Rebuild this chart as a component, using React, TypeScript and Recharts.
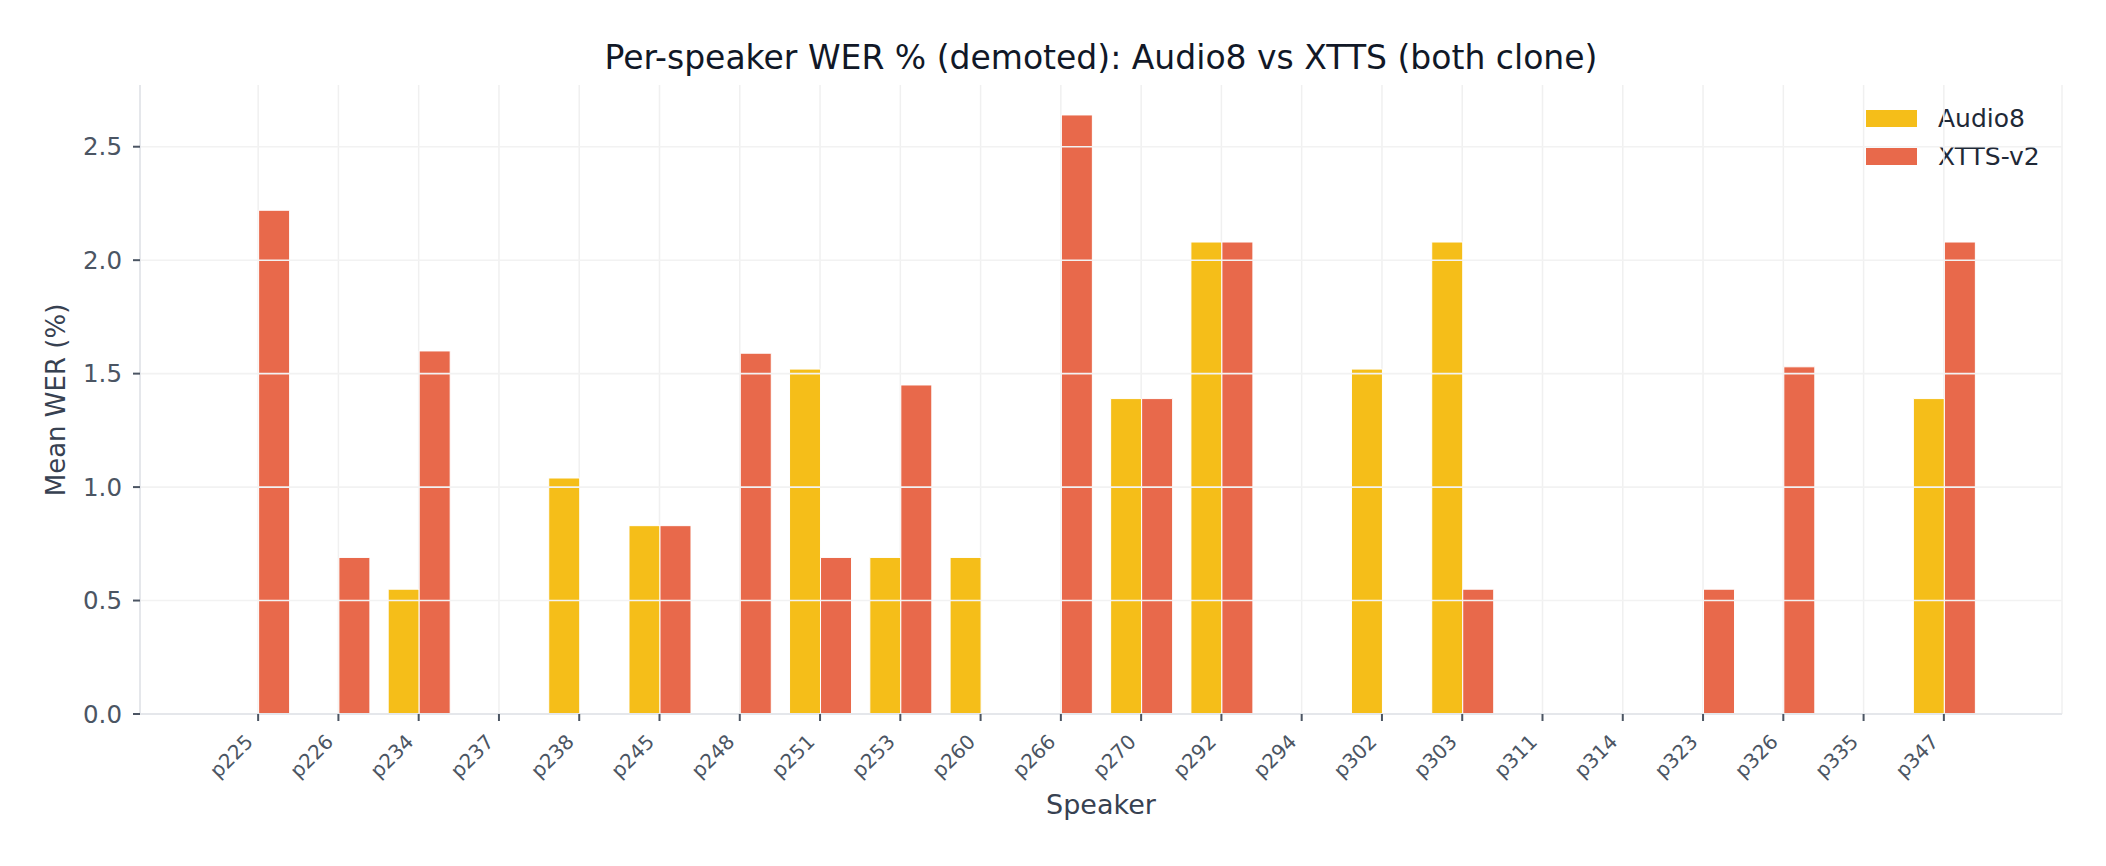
import React from "react";
import { BarChart, Bar, XAxis, YAxis, CartesianGrid, ReferenceLine } from "recharts";

// per-speaker mean WER (%), demoted set
const speakers = [
  "p225", "p226", "p234", "p237", "p238", "p245", "p248", "p251", "p253", "p260", "p266",
  "p270", "p292", "p294", "p302", "p303", "p311", "p314", "p323", "p326", "p335", "p347",
];
const audio8 = [0, 0, 0.55, 0, 1.04, 0.83, 0, 1.52, 0.69, 0.69, 0, 1.39, 2.08, 0, 1.52, 2.08, 0, 0, 0, 0, 0, 1.39];
const xtts = [2.22, 0.69, 1.6, 0, 0, 0.83, 1.59, 0.69, 1.45, 0, 2.64, 1.39, 2.08, 0, 0, 0.55, 0, 0, 0.55, 1.53, 0, 2.08];
const yTicks = [0, 0.5, 1.0, 1.5, 2.0, 2.5];

const data = speakers.map((s, i) => ({ speaker: s, audio8: audio8[i], xtts: xtts[i] }));

const FONT = "'DejaVu Sans', sans-serif";
const AUDIO8_COLOR = "#f5be19";
const XTTS_COLOR = "#e8694b";

const series = [
  { key: "audio8", name: "Audio8", color: AUDIO8_COLOR },
  { key: "xtts", name: "XTTS-v2", color: XTTS_COLOR },
];

const XTick = (props: any) => {
  const { x, y, payload } = props;
  const ax = x - 4;
  const ay = y + 22;
  return (
    <text
      x={ax}
      y={ay}
      transform={`rotate(-45, ${ax}, ${ay})`}
      textAnchor="end"
      fontSize={20}
      fontFamily={FONT}
      fill="#4b5563"
    >
      {payload.value}
    </text>
  );
};

export default function App() {
  return (
    <div style={{ position: "absolute", left: 0, top: 0, width: 2106, height: 866, background: "#fff" }}>
      <div
        style={{
          position: "absolute", left: 140, top: 41, width: 1922, textAlign: "center",
          fontFamily: FONT, fontSize: 33, lineHeight: "33px", color: "#111827", whiteSpace: "nowrap",
        }}
      >
        Per-speaker WER % (demoted): Audio8 vs XTTS (both clone)
      </div>
      <div
        style={{
          position: "absolute", left: 56, top: 400, transform: "translate(-50%, -50%) rotate(-90deg)",
          fontFamily: FONT, fontSize: 26, lineHeight: "26px", color: "#374151", whiteSpace: "nowrap",
        }}
      >
        Mean WER (%)
      </div>
      <div
        style={{
          position: "absolute", left: 140, top: 791, width: 1922, textAlign: "center",
          fontFamily: FONT, fontSize: 27, lineHeight: "27px", color: "#374151",
        }}
      >
        Speaker
      </div>
      <div style={{ position: "absolute", left: 1866, top: 99 }}>
        {series.map((s) => (
          <div key={s.key} style={{ display: "flex", alignItems: "center", height: 38 }}>
            <span style={{ width: 51, height: 17, background: s.color, marginRight: 21, display: "inline-block" }} />
            <span style={{ fontSize: 25, color: "#1f2937", fontFamily: FONT }}>{s.name}</span>
          </div>
        ))}
      </div>
      <BarChart
        width={2106}
        height={866}
        data={data}
        margin={{ top: 85, right: 44, left: 40, bottom: 52 }}
        barCategoryGap="12%"
        barGap={0}
      >
        <CartesianGrid horizontal={false} stroke="#f0f0f0" strokeWidth={1.5} />
        <XAxis
          dataKey="speaker"
          height={100}
          interval={0}
          padding={{ left: 78, right: 78 }}
          tick={<XTick />}
          tickSize={7}
          tickMargin={0}
          tickLine={{ stroke: "#4b5563", strokeWidth: 2 }}
          axisLine={{ stroke: "#e5e7eb", strokeWidth: 2 }}
        />
        <YAxis
          width={100}
          domain={[0, 2.772]}
          ticks={yTicks}
          tickFormatter={(v: number) => v.toFixed(1)}
          tickSize={7}
          tickMargin={11}
          tick={{ fontSize: 24.5, fill: "#4b5563", fontFamily: FONT }}
          tickLine={{ stroke: "#4b5563", strokeWidth: 2 }}
          axisLine={{ stroke: "#e5e7eb", strokeWidth: 2 }}
        />
        {series.map((s) => (
          <Bar
            key={s.key}
            dataKey={s.key}
            name={s.name}
            fill={s.color}
            stroke="#ffffff"
            strokeWidth={1}
            isAnimationActive={false}
          />
        ))}
        {yTicks.slice(1).map((t) => (
          <ReferenceLine key={t} y={t} stroke="#f2f2f2" strokeWidth={1.6} />
        ))}
      </BarChart>
    </div>
  );
}
